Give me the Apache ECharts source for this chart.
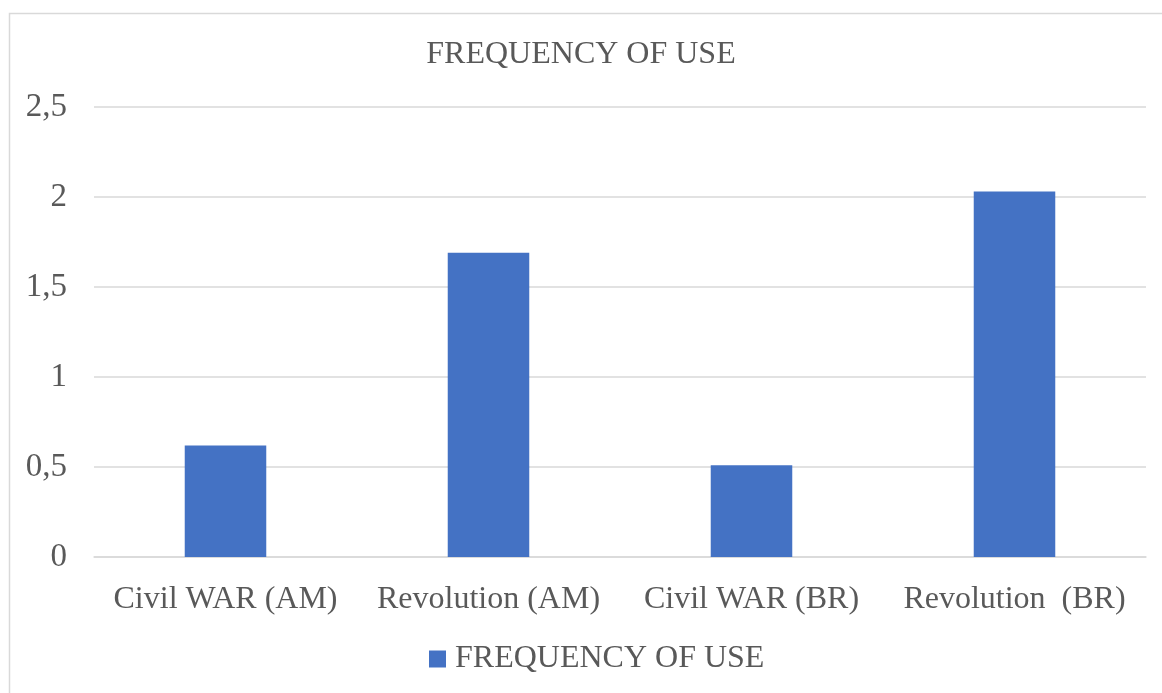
<!DOCTYPE html>
<html>
<head>
<meta charset="utf-8">
<script src="https://cdn.jsdelivr.net/npm/echarts@6/dist/echarts.min.js"></script>
<style>
html,body{margin:0;padding:0;background:#fff;}
#chart{width:1162px;height:693px;}
</style>
</head>
<body>
<div id="chart"></div>
<script>
const titleText = 'FREQUENCY OF USE';
const seriesName = 'FREQUENCY OF USE';
const categories = ['Civil WAR (AM)', 'Revolution (AM)', 'Civil WAR (BR)', 'Revolution  (BR)'];
const values = [0.62, 1.69, 0.51, 2.03];
const yMin = 0, yMax = 2.5, yStep = 0.5;

const font = '"Liberation Serif", "Times New Roman", serif';
const textColor = '#595959';
const chart = echarts.init(document.getElementById('chart'));
chart.setOption({
  animation: false,
  backgroundColor: '#fff',
  graphic: [{
    type: 'rect',
    shape: { x: 9.5, y: 13.5, width: 1200, height: 720 },
    style: { fill: 'none', stroke: '#D9D9D9', lineWidth: 1.5 },
    silent: true
  }],
  title: {
    text: titleText,
    left: 'center',
    top: 34,
    textStyle: { fontFamily: font, fontSize: 32, fontWeight: 'normal', color: textColor }
  },
  legend: {
    bottom: 13,
    left: 424,
    itemWidth: 17,
    itemHeight: 17,
    icon: 'rect',
    textStyle: { fontFamily: font, fontSize: 32, color: textColor, padding: [0, 0, 0, 4] },
    data: [seriesName]
  },
  grid: { left: 94, right: 16, top: 107, bottom: 136, containLabel: false },
  xAxis: {
    type: 'category',
    data: categories,
    axisLine: { show: true, lineStyle: { color: '#D9D9D9', width: 1.5 } },
    axisTick: { show: false },
    axisLabel: { fontFamily: font, fontSize: 32, color: textColor, margin: 27, interval: 0 }
  },
  yAxis: {
    type: 'value',
    min: yMin,
    max: yMax,
    interval: yStep,
    axisLine: { show: false },
    axisTick: { show: false },
    splitLine: { lineStyle: { color: '#D9D9D9', width: 1.5 } },
    axisLabel: {
      fontFamily: font, fontSize: 33, color: textColor, margin: 27,
      formatter: v => String(v).replace('.', ',')
    }
  },
  series: [{
    name: seriesName,
    type: 'bar',
    data: values,
    barWidth: '31%',
    itemStyle: { color: '#4472C4' }
  }]
});
</script>
</body>
</html>
